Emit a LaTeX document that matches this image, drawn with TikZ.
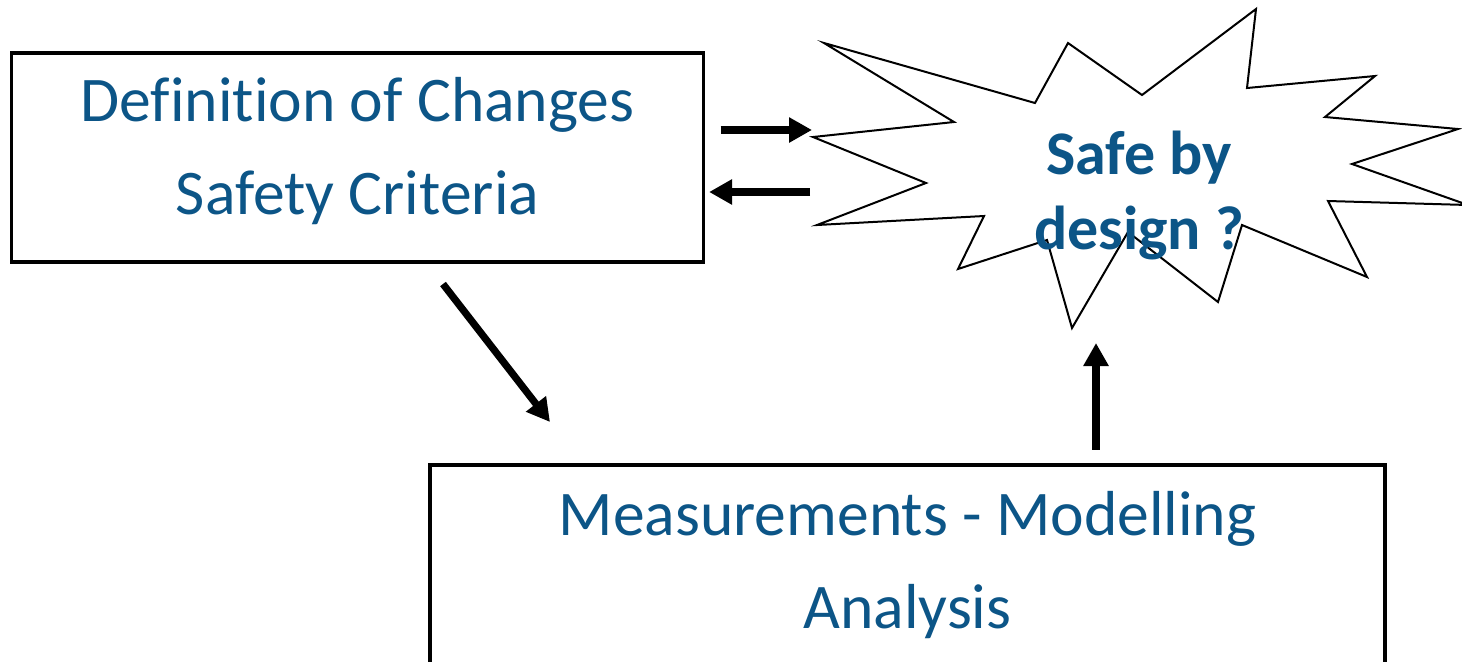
\documentclass[tikz,border=0pt]{standalone}
\usepackage{fontspec}
\setmainfont{Carlito}[Ligatures=NoCommon]
\usetikzlibrary{arrows.meta}
\definecolor{textblue}{RGB}{12,85,135}
\tikzset{
  box/.style={draw, line width=1.6pt, align=center, text=textblue, inner sep=0pt,
    font=\fontsize{31.8}{46.5}\selectfont},
  safetext/.style={align=center, text=textblue, inner sep=0pt,
    font=\bfseries\fontsize{31}{37.5}\selectfont},
  arr/.style={line width=3.6pt, -{Triangle[length=11.5pt,width=12pt]}},
}
\begin{document}
\begin{tikzpicture}[x=0.5pt,y=-0.5pt]
  \useasboundingbox (0,0) rectangle (1462,661);
  % the two boxes
  \node[box, minimum width=346pt, minimum height=104.5pt] (defn) at (357.5,157.5)
    {Definition of Changes\\Safety Criteria\rule[-11.3pt]{0pt}{0pt}};
  \node[box, minimum width=477.5pt, minimum height=105.5pt] (meas) at (907.5,570.5)
    {Measurements - Modelling\\Analysis\rule[-10.3pt]{0pt}{0pt}};
  % the burst
  \draw[line width=1pt] (824,43) -- (1035,103) -- (1068,43) -- (1142,95) -- (1256,9)
    -- (1247,88) -- (1375,76) -- (1325,117) -- (1458,129) -- (1352,164) -- (1468,205)
    -- (1328,201) -- (1367,277) -- (1242,225) -- (1218,302) -- (1128,232) -- (1072,328)
    -- (1047,240) -- (958,269) -- (984,216) -- (817,225) -- (926,183) -- (813,137)
    -- (954,122) -- cycle;
  \node[safetext] (safe) at (1139,195) {Safe by\\design ?};
  % arrows
  \coordinate (in1) at (812,130);
  \coordinate (out1) at (810,192);
  \coordinate (d1) at (443,284);
  \coordinate (d2) at (550,422);
  \coordinate (in2) at (1096,343);
  \draw[arr, shorten <=7.75pt] (defn.east |- in1) -- (in1);
  \draw[arr, shorten >=2pt] (out1) -- (defn.east |- out1);
  \draw[arr] (d1) -- (d2);
  \draw[arr, shorten <=6.75pt] (meas.north -| in2) -- (in2);
\end{tikzpicture}
\end{document}
